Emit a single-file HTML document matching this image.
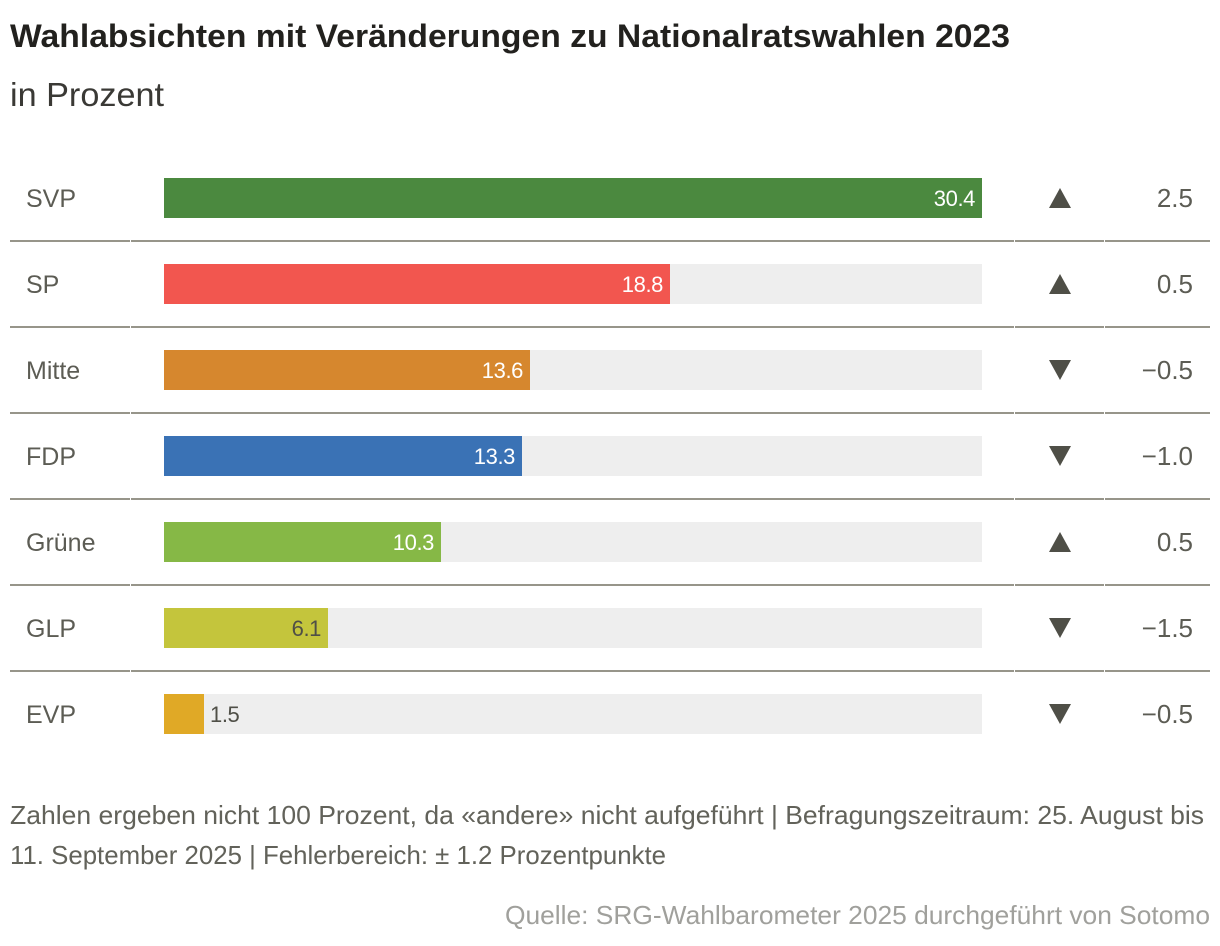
<!DOCTYPE html>
<html lang="de">
<head>
<meta charset="utf-8">
<title>Wahlabsichten</title>
<style>
html,body{margin:0;padding:0;background:#fff;}
body{width:1220px;height:946px;overflow:hidden;}
svg{display:block;}
text{font-family:"Liberation Sans",sans-serif;}
</style>
</head>
<body>
<svg id="chart" xmlns="http://www.w3.org/2000/svg" width="1220" height="946" viewBox="0 0 1220 946">
  <text x="10" y="47" font-size="32" font-weight="700" fill="#22211e" textLength="1000" lengthAdjust="spacingAndGlyphs">Wahlabsichten mit Veränderungen zu Nationalratswahlen 2023</text>
  <text x="10" y="106" font-size="33" fill="#3a3935" textLength="154" lengthAdjust="spacingAndGlyphs">in Prozent</text>
  <g id="rows"></g>
  <text x="10" y="824" font-size="26" fill="#62625a" textLength="1194" lengthAdjust="spacingAndGlyphs">Zahlen ergeben nicht 100 Prozent, da «andere» nicht aufgeführt | Befragungszeitraum: 25. August bis</text>
  <text x="10" y="864" font-size="26" fill="#62625a" textLength="656" lengthAdjust="spacingAndGlyphs">11. September 2025 | Fehlerbereich: ± 1.2 Prozentpunkte</text>
  <text x="505" y="924" font-size="26" fill="#a0a09c" textLength="705" lengthAdjust="spacingAndGlyphs">Quelle: SRG-Wahlbarometer 2025 durchgeführt von Sotomo</text>
</svg>
<script>
const parties = ['SVP', 'SP', 'Mitte', 'FDP', 'Grüne', 'GLP', 'EVP'];
const shares = [30.4, 18.8, 13.6, 13.3, 10.3, 6.1, 1.5];
const changes = [2.5, 0.5, -0.5, -1.0, 0.5, -1.5, -0.5];
const partyColors = ['#4b893f', '#f2564f', '#d6872e', '#3a72b5', '#86b846', '#c4c53c', '#e0a926'];
const labelColors = ['#ffffff', '#ffffff', '#ffffff', '#ffffff', '#ffffff', '#4f4f47', '#4f4f47'];

const scaleMax = 30.4;
const trackX = 164;
const trackWidth = 818;
const firstRowTop = 178;
const rowStep = 86;
const barHeight = 40;
const svgNS = 'http://www.w3.org/2000/svg';
const rowsGroup = document.getElementById('rows');

function xScale(v) { return Math.round(v / scaleMax * trackWidth); }
function rowTop(i) { return firstRowTop + i * rowStep; }
function make(tag, attrs, parent, text) {
  const el = document.createElementNS(svgNS, tag);
  for (const k in attrs) el.setAttribute(k, attrs[k]);
  if (text !== undefined) el.textContent = text;
  parent.appendChild(el);
  return el;
}
function formatChange(v) {
  return (v < 0 ? '\u2212' : '') + Math.abs(v).toFixed(1);
}

parties.forEach(function (party, i) {
  const top = rowTop(i);
  const mid = top + barHeight / 2;
  const w = xScale(shares[i]);

  const row = make('g', {}, rowsGroup);
  
  

  const name = make('text', { x: 26, y: mid + 9, 'font-size': 25, fill: '#5c5c54' }, row, party);
  
  

  const track = make('rect', { x: trackX, y: top, width: trackWidth, height: barHeight, fill: '#eeeeee' }, row);
  
  

  const bar = make('rect', { x: trackX, y: top, width: w, height: barHeight, fill: partyColors[i] }, row);
  
  

  const inside = w > 60;
  const val = make('text', {
    x: inside ? trackX + w - 7 : trackX + w + 6,
    y: mid + 8,
    'font-size': 22,
    'letter-spacing': '-0.4',
    'text-anchor': inside ? 'end' : 'start',
    fill: labelColors[i]
  }, row, shares[i].toFixed(1));
  
  

  const cx = 1060;
  const up = changes[i] >= 0;
  const tip = up ? mid - 10 : mid + 10;
  const base = up ? mid + 10 : mid - 10;
  const tri = make('polygon', {
    points: (cx - 11) + ',' + base + ' ' + (cx + 11) + ',' + base + ' ' + cx + ',' + tip,
    fill: '#4f4f47'
  }, row);
  
  

  const chg = make('text', { x: 1193, y: mid + 9, 'font-size': 26, 'text-anchor': 'end', fill: '#5c5c54' }, row, formatChange(changes[i]));
  
  

  if (i < parties.length - 1) {
    const lineY = top + 62;
    [[10, 130], [131, 1014], [1015, 1104], [1105, 1210]].forEach(function (seg) {
      const r = make('rect', { x: seg[0], y: lineY, width: seg[1] - seg[0], height: 2, fill: '#97958a' }, row);
      
      
    });
  }
});
</script>
</body>
</html>
